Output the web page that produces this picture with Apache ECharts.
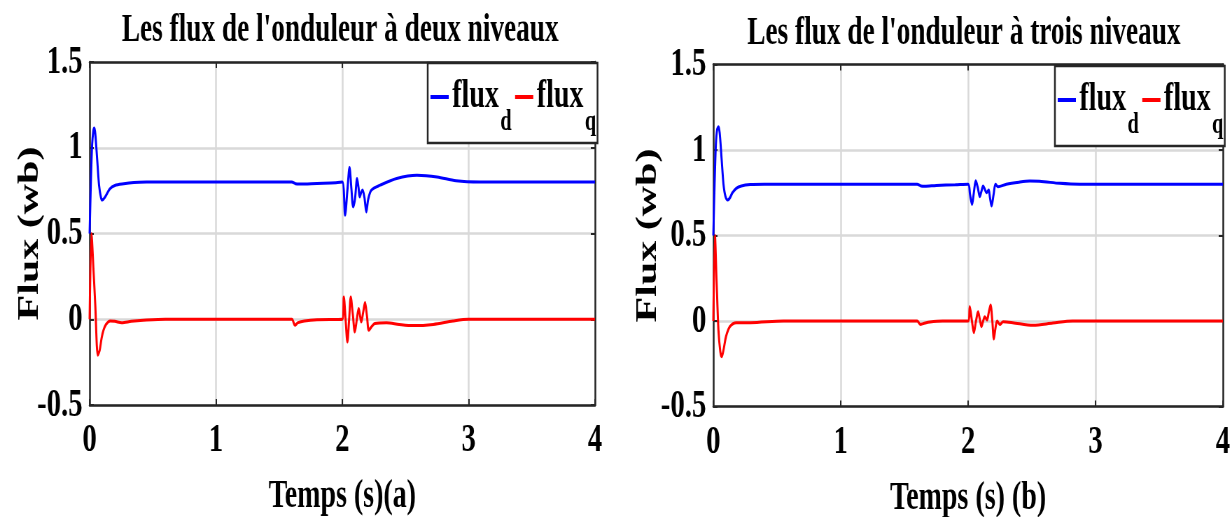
<!DOCTYPE html>
<html>
<head>
<meta charset="utf-8">
<script src="https://cdn.jsdelivr.net/npm/echarts@6/dist/echarts.min.js"></script>
<style>
html,body{margin:0;padding:0;background:#fff;overflow:hidden;width:1231px;height:517px;}
#chart{width:1758.6px;height:517px;transform:scaleX(0.7);transform-origin:0 0;}
</style>
</head>
<body>
<div id="chart"></div>
<script>
// ---- data ----
var titleA = "Les flux de l'onduleur à deux niveaux";
var titleB = "Les flux de l'onduleur à trois niveaux";
var xNameA = "Temps (s)(a)";
var xNameB = "Temps (s) (b)";
var yName = "Flux (wb)";
var seriesNames = ["flux_d", "flux_q"];
var xTicks = [0, 1, 2, 3, 4];
var yTicks = [-0.5, 0, 0.5, 1, 1.5];

// chart (a) : two-level inverter
var tA_d = [0,0.01,0.02,0.03,0.037,0.045,0.06,0.075,0.09,0.1,0.12,0.16,0.2,0.27,0.35,0.45,0.6,1.0,1.6,1.63,1.66,1.8,1.95,2.0,2.022,2.04,2.057,2.072,2.086,2.1,2.117,2.128,2.138,2.15,2.16,2.175,2.19,2.205,2.23,2.3,2.43,2.59,2.75,2.9,3.09,3.5,4.0];
var vA_d = [0.5,0.8,1.02,1.1,1.115,1.08,0.93,0.78,0.71,0.695,0.71,0.76,0.78,0.79,0.797,0.8,0.801,0.801,0.8,0.79,0.788,0.792,0.796,0.8,0.607,0.75,0.885,0.76,0.655,0.7,0.82,0.77,0.713,0.74,0.753,0.71,0.626,0.7,0.753,0.782,0.821,0.84,0.83,0.807,0.80,0.80,0.80];
var tA_q = [0,0.015,0.03,0.045,0.065,0.08,0.095,0.11,0.13,0.162,0.2,0.254,0.33,0.425,0.6,1.0,1.6,1.625,1.65,1.7,1.8,2.0,2.012,2.026,2.04,2.054,2.067,2.083,2.099,2.115,2.13,2.15,2.165,2.18,2.195,2.21,2.235,2.257,2.35,2.45,2.56,2.72,2.876,3.0,3.5,4.0];
var vA_q = [0,0.5,0.3,0.08,-0.21,-0.18,-0.11,-0.064,-0.03,-0.01,-0.012,-0.02,-0.012,-0.006,0,0,0,-0.035,-0.02,-0.01,-0.003,0,0.13,0,-0.132,0,0.13,0.03,-0.074,0,0.062,-0.016,0.04,0.097,0.02,-0.064,-0.04,-0.025,-0.02,-0.03,-0.037,-0.03,-0.01,0,0,0];

// chart (b) : three-level inverter
var tB_d = [0,0.01,0.02,0.03,0.04,0.05,0.065,0.08,0.095,0.113,0.13,0.15,0.18,0.22,0.29,0.4,1.0,1.6,1.63,1.66,1.75,1.9,2.0,2.015,2.031,2.045,2.06,2.076,2.092,2.105,2.118,2.131,2.144,2.153,2.162,2.172,2.184,2.2,2.215,2.235,2.3,2.4,2.484,2.56,2.72,2.876,3.0,4.0];
var vB_d = [0.5,0.8,1.03,1.12,1.136,1.1,0.95,0.8,0.73,0.708,0.72,0.75,0.776,0.79,0.798,0.8,0.8,0.8,0.79,0.788,0.793,0.797,0.8,0.74,0.682,0.75,0.82,0.78,0.727,0.76,0.79,0.77,0.75,0.758,0.766,0.72,0.673,0.74,0.8,0.785,0.80,0.812,0.818,0.817,0.805,0.80,0.80,0.80];
var tB_q = [0,0.013,0.025,0.04,0.055,0.066,0.08,0.1,0.13,0.18,0.29,0.55,1.0,1.6,1.625,1.65,1.7,1.8,2.0,2.013,2.03,2.045,2.062,2.078,2.092,2.105,2.118,2.131,2.14,2.149,2.162,2.176,2.19,2.202,2.215,2.228,2.249,2.275,2.35,2.51,2.665,2.82,3.0,4.0];
var vB_q = [0,0.5,0.25,-0.05,-0.18,-0.209,-0.17,-0.09,-0.033,-0.01,-0.01,0,0,0,-0.02,-0.015,-0.006,0,0,0.084,0.0,-0.068,0,0.054,0.01,-0.033,0,0.025,0.015,0.006,0.05,0.094,0,-0.105,-0.04,0,-0.02,-0.005,-0.01,-0.025,-0.012,0,0,0];

// ---- helpers ----
function pairs(t, v) {
  var n = Math.min(t.length, v.length), out = [];
  for (var i = 0; i < n; i++) out.push([t[i], v[i]]);
  return out;
}
var F = "'Liberation Serif', 'Times New Roman', serif";
var BLUE = '#0000ff', RED = '#ff0000', FRAME = '#262626';

function titleCfg(text, cx, top) {
  return { text: text, left: cx, top: top, textAlign: 'center', padding: 0,
    textStyle: { fontFamily: F, fontWeight: 'bold', fontSize: 39, color: '#000' } };
}
function legendCfg(left, top) {
  return {
    left: left, top: top, orient: 'horizontal', selectedMode: false,
    data: seriesNames, icon: 'rect', itemWidth: 26, itemHeight: 4, itemGap: 5,
    padding: [14, 2, 6, 4], borderColor: FRAME, borderWidth: 2.5, backgroundColor: '#fff',
    formatter: function (n) { var p = n.split('_'); return '{a|' + p[0] + '}{b|' + p[1] + '}'; },
    textStyle: { rich: {
      a: { fontFamily: F, fontWeight: 'bold', fontSize: 40, lineHeight: 40, verticalAlign: 'top', color: '#000' },
      b: { fontFamily: F, fontWeight: 'bold', fontSize: 29, lineHeight: 29, verticalAlign: 'top', padding: [31, 0, 0, 2], color: '#000' }
    } }
  };
}
function xMain(gi, name) {
  return {
    gridIndex: gi, type: 'value', min: xTicks[0], max: xTicks[xTicks.length - 1], interval: 1,
    name: name, nameLocation: 'middle', nameGap: 72, nameMoveOverlap: false,
    nameTextStyle: { fontFamily: F, fontWeight: 'bold', fontSize: 40, color: '#000' },
    axisLine: { show: true, onZero: false, lineStyle: { color: FRAME, width: 2.5 } },
    axisTick: { show: true, inside: true, length: 6, lineStyle: { color: FRAME, width: 2 } },
    axisLabel: { margin: 15, fontFamily: F, fontWeight: 'bold', fontSize: 41, color: '#000' },
    splitLine: { show: true, lineStyle: { color: '#d9d9d9', width: 2.5 } }
  };
}
function xTop(gi) {
  return {
    gridIndex: gi, type: 'value', position: 'top', min: xTicks[0], max: xTicks[xTicks.length - 1], interval: 1,
    axisLine: { show: true, onZero: false, lineStyle: { color: FRAME, width: 2.5 } },
    axisTick: { show: true, inside: true, length: 6, lineStyle: { color: FRAME, width: 2 } },
    axisLabel: { show: false }, splitLine: { show: false }
  };
}
function yMain(gi, gap) {
  return {
    gridIndex: gi, type: 'value', min: yTicks[0], max: yTicks[yTicks.length - 1], interval: 0.5,
    name: yName, nameLocation: 'middle', nameGap: gap, nameMoveOverlap: false,
    nameTextStyle: { fontFamily: F, fontWeight: 'bold', fontSize: 42, color: '#000' },
    axisLine: { show: true, onZero: false, lineStyle: { color: FRAME, width: 2.5 } },
    axisTick: { show: true, inside: true, length: 6, lineStyle: { color: FRAME, width: 2 } },
    axisLabel: { margin: 10, fontFamily: F, fontWeight: 'bold', fontSize: 41, color: '#000' },
    splitLine: { show: true, lineStyle: { color: '#d9d9d9', width: 2.5 } }
  };
}
function yRight(gi) {
  return {
    gridIndex: gi, type: 'value', position: 'right', min: yTicks[0], max: yTicks[yTicks.length - 1], interval: 0.5,
    axisLine: { show: true, onZero: false, lineStyle: { color: FRAME, width: 2.5 } },
    axisTick: { show: true, inside: true, length: 6, lineStyle: { color: FRAME, width: 2 } },
    axisLabel: { show: false }, splitLine: { show: false }
  };
}
function line(name, gi, data, color) {
  return { name: name, type: 'line', xAxisIndex: gi, yAxisIndex: gi, data: data,
    showSymbol: false, symbol: 'none', smooth: 0.3, color: color,
    lineStyle: { color: color, width: 3 } };
}

var option = {
  animation: false,
  backgroundColor: '#fff',
  title: [ titleCfg(titleA, 486, 11), titleCfg(titleB, 1377, 14) ],
  legend: [ legendCfg(611, 63), legendCfg(1507, 66) ],
  grid: [
    { left: 128, top: 62, width: 722, height: 343, show: false, outerBoundsMode: 'none', containLabel: false },
    { left: 1019, top: 64.5, width: 728, height: 342, show: false, outerBoundsMode: 'none', containLabel: false }
  ],
  xAxis: [ xMain(0, xNameA), xMain(1, xNameB), xTop(0), xTop(1) ],
  yAxis: [ yMain(0, 64), yMain(1, 72), yRight(0), yRight(1) ],
  series: [
    line(seriesNames[0], 0, pairs(tA_d, vA_d), BLUE),
    line(seriesNames[1], 0, pairs(tA_q, vA_q), RED),
    line(seriesNames[0], 1, pairs(tB_d, vB_d), BLUE),
    line(seriesNames[1], 1, pairs(tB_q, vB_q), RED)
  ]
};
var chart = echarts.init(document.getElementById('chart'), null, { renderer: 'canvas' });
chart.setOption(option);
</script>
</body>
</html>
